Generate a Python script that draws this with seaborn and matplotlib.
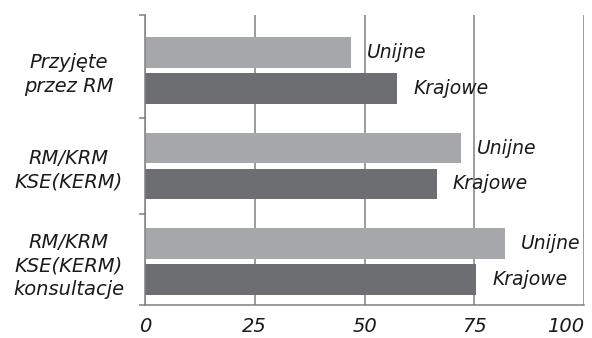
import matplotlib
matplotlib.use("Agg")
import matplotlib.pyplot as plt
import seaborn as sns
import pandas as pd

# Categories, series and values (percent)
categories = ["Przyjęte\nprzez RM", "RM/KRM\nKSE(KERM)", "RM/KRM\nKSE(KERM)\nkonsultacje"]
series = ["Unijne", "Krajowe"]
unijne = [47, 72, 82]
krajowe = [57.5, 66.5, 75.5]
x_ticks = [0, 25, 50, 75, 100]

colors = {"Unijne": "#a6a7ab", "Krajowe": "#6d6e72"}
axis_color = "#808080"
text_color = "#1a1a1a"

rows = []
for cat, u, k in zip(categories, unijne, krajowe):
    rows.append({"kategoria": cat, "seria": "Unijne", "wartosc": u})
    rows.append({"kategoria": cat, "seria": "Krajowe", "wartosc": k})
df = pd.DataFrame(rows)

sns.set_theme(style="white")
plt.rcParams["font.family"] = ["DejaVu Sans"]

W, H = 592, 338
fig = plt.figure(figsize=(W / 100, H / 100), dpi=100)
ax = fig.add_axes([145 / W, 1 - 305 / H, (584 - 145) / W, (305 - 15) / H])

sns.barplot(data=df, y="kategoria", x="wartosc", hue="seria", hue_order=series,
            order=categories, orient="h", palette=colors, width=0.75, gap=0.15,
            saturation=1, linewidth=0, legend=False, ax=ax)

ax.set_xlim(0, 100)
ax.set_ylim(2.455, -0.581)
ax.set_xlabel("")
ax.set_ylabel("")

# Vertical grid lines
ax.set_xticks(x_ticks)
ax.grid(axis="x", color=axis_color, linewidth=1.1)
ax.grid(axis="y", visible=False)
ax.set_axisbelow(True)

for side in ["top", "right"]:
    ax.spines[side].set_visible(False)
for side in ["left", "bottom"]:
    ax.spines[side].set_color(axis_color)
    ax.spines[side].set_linewidth(1.1)

# x tick labels
ax.set_xticklabels([str(t) for t in x_ticks], fontsize=14, style="italic", color=text_color)
ax.xaxis.get_ticklabels()[-1].set_horizontalalignment("right")
ax.tick_params(axis="x", direction="inout", length=7, width=1.1, color=axis_color, pad=5)

# y labels centred on categories, tick marks between groups
ax.set_yticks(range(len(categories)))
ax.set_yticklabels(categories, fontsize=14, style="italic", color=text_color,
                   ha="center", multialignment="center", linespacing=1.3)
ax.tick_params(axis="y", which="major", length=0, pad=55)
ax.set_yticks([-0.581, 0.5, 1.5, 2.455], minor=True)
ax.tick_params(axis="y", which="minor", direction="out", length=4, width=1.1,
               color=axis_color, left=True)

# Series names beside each bar
for container, name in zip(ax.containers, series):
    for bar in container:
        ax.annotate(name, (bar.get_width(), bar.get_y() + bar.get_height() / 2),
                    xytext=(16, 0), textcoords="offset pixels",
                    ha="left", va="center", fontsize=13.5, style="italic",
                    color=text_color, annotation_clip=False)

fig.savefig("out.png", dpi=100)
